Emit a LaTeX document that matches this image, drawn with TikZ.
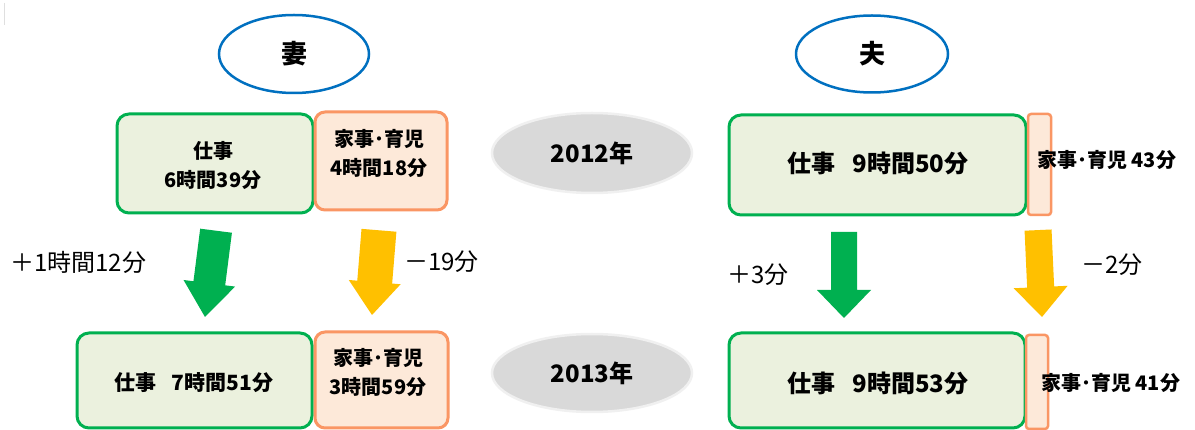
\documentclass[tikz,border=0pt]{standalone}
\usepackage{fontspec}
\newfontfamily\jp{Noto Sans CJK JP}
\usetikzlibrary{shapes.geometric}
\definecolor{wgreen}{RGB}{0,176,80}
\definecolor{wgreenfill}{RGB}{235,241,222}
\definecolor{horange}{RGB}{250,150,100}
\definecolor{horangefill}{RGB}{253,233,217}
\definecolor{ablue}{RGB}{0,112,192}
\definecolor{ayellow}{RGB}{255,192,0}
\definecolor{ygray}{RGB}{217,217,217}
\definecolor{ygrayedge}{RGB}{240,240,240}
\tikzset{
  person/.style={ellipse, draw=ablue, line width=2.5pt, fill=white, inner sep=0pt, font=\jp\bfseries\fontsize{26}{26}\selectfont},
  yearoval/.style={ellipse, draw=ygrayedge, line width=2.5pt, fill=ygray, inner sep=0pt, font=\jp\bfseries\fontsize{24}{24}\selectfont},
  workbox/.style={rectangle, rounded corners=12pt, draw=wgreen, fill=wgreenfill, line width=3pt, inner sep=0pt, align=center},
  housebox/.style={rectangle, rounded corners=10pt, draw=horange, fill=horangefill, line width=3pt, inner sep=0pt},
  housebar/.style={rectangle, rounded corners=3pt, draw=horange, fill=horangefill, line width=2.5pt, inner sep=0pt},
  smalltxt/.style={font=\jp\bfseries\fontsize{20}{29}\selectfont, align=center, inner sep=0pt},
  bigtxt/.style={font=\jp\bfseries\fontsize{24}{24}\selectfont, inner sep=0pt},
  midtxt/.style={font=\jp\bfseries\fontsize{21}{21}\selectfont, inner sep=0pt},
  barlabel/.style={font=\jp\bfseries\fontsize{20}{20}\selectfont, inner sep=0pt, anchor=west},
  difflabel/.style={font=\jp\fontsize{24}{24}\selectfont, inner sep=0pt, anchor=west},
  garrow/.style={fill=wgreen},
  yarrow/.style={fill=ayellow}
}
% #1 style, #2 tip, #3 rotation, #4 length, #5 head length, #6 head half width, #7 shaft half width
\newcommand{\blockarrow}[7]{%
  \fill[#1, shift={#2}, rotate=#3] (0,0) -- (-#6,-#5) -- (-#7,-#5) -- (-#7,-#4) -- (#7,-#4) -- (#7,-#5) -- (#6,-#5) -- cycle;}
\begin{document}
\begin{tikzpicture}[x=1pt, y=-1pt]
\useasboundingbox (0,0) rectangle (1195,430);
\fill[white] (0,0) rectangle (1195,430);
\draw[gray!25, line width=1.5pt] (4.5,3) -- (4.5,25);

% persons
\node[person, minimum width=150pt, minimum height=78pt] (wife) at (294,54) {妻};
\node[person, minimum width=152pt, minimum height=77pt] (husband) at (872,54) {夫};

% years
\node[yearoval, minimum width=200pt, minimum height=80pt] (y2012) at (592,153) {2012年};
\node[yearoval, minimum width=200pt, minimum height=78pt] (y2013) at (592,373) {2013年};

% wife 2012
\node[workbox, minimum width=196pt, minimum height=99pt] (w12work) at (215,163.5) {};
\node[smalltxt] (w12worktxt) at (213,165) {仕事\\6時間39分};
\node[housebox, minimum width=132pt, minimum height=98pt] (w12house) at (381,161) {};
\node[smalltxt] (w12housetxt) at (379,153) {家事･育児\\4時間18分};

% wife 2013
\node[workbox, minimum width=235pt, minimum height=95pt] (w13work) at (194.5,380.5) {};
\node[midtxt] (w13worktxt) at (194,383) {仕事\hspace{0.7em}7時間51分};
\node[housebox, minimum width=133pt, minimum height=96pt] (w13house) at (381.5,380) {};
\node[smalltxt] (w13housetxt) at (378,372.5) {家事･育児\\3時間59分};

% husband 2012
\node[workbox, minimum width=297pt, minimum height=100pt] (h12work) at (877.5,165) {};
\node[bigtxt] (h12worktxt) at (878,163) {仕事\hspace{0.7em}9時間50分};
\node[housebar, minimum width=23pt, minimum height=101pt] (h12house) at (1039.5,164.5) {};
\node[barlabel] (h12housetxt) at (1037,160) {家事･育児 43分};

% husband 2013
\node[workbox, minimum width=296pt, minimum height=95pt] (h13work) at (877,380.5) {};
\node[bigtxt] (h13worktxt) at (878,383) {仕事\hspace{0.7em}9時間53分};
\node[housebar, minimum width=22pt, minimum height=94pt] (h13house) at (1037,382) {};
\node[barlabel] (h13housetxt) at (1041,383) {家事･育児 41分};

% arrows
\blockarrow{garrow}{(205,317)}{-7.3}{87}{34}{26}{16}
\blockarrow{yarrow}{(372,315)}{-4.7}{85}{33}{26}{17.5}
\blockarrow{garrow}{(844,318)}{0}{86}{28}{27}{13}
\blockarrow{yarrow}{(1042,317)}{2.6}{87}{30}{27}{13.5}

% change labels
\node[difflabel] (wwork) at (10,262) {＋1時間12分};
\node[difflabel] (whouse) at (404,262) {－19分};
\node[difflabel] (hwork) at (727,275) {＋3分};
\node[difflabel] (hhouse) at (1081,265) {－2分};
\end{tikzpicture}
\end{document}
